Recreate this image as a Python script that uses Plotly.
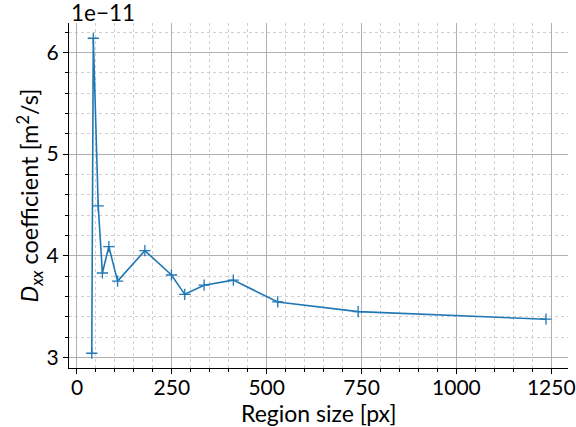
import plotly.graph_objects as go

region_size = [39, 43, 56, 67, 84, 107, 179, 249, 284, 335, 412, 529, 741, 1236]
dxx_e11 = [3.04, 6.14, 4.49, 3.83, 4.09, 3.75, 4.05, 3.81, 3.62, 3.71, 3.76, 3.545, 3.45, 3.375]

x_ticks = [0, 250, 500, 750, 1000, 1250]
y_ticks = [3, 4, 5, 6]

FONT = "Lato"
FS_TICK = 21
FS_TITLE = 23

fig = go.Figure()
fig.add_trace(go.Scatter(
    x=region_size, y=dxx_e11, mode="lines+markers",
    line=dict(color="#1f77b4", width=1.6),
    marker=dict(symbol="cross-thin", size=8, line=dict(color="#1f77b4", width=1.3)),
    showlegend=False,
))

axis_common = dict(
    showline=True, linecolor="black", linewidth=1.2,
    ticks="outside", ticklen=5, tickwidth=1.2, tickcolor="black",
    showgrid=True, gridcolor="#b0b0b0", gridwidth=1,
    zeroline=False, mirror=False, automargin=False,
    ticklabeloverflow="allow",
    tickfont=dict(family=FONT, size=FS_TICK, color="black"),
)

fig.update_xaxes(
    **axis_common,
    range=[-21, 1294], tickvals=x_ticks, ticklabelstandoff=-4,
    minor=dict(dtick=50, tick0=0, ticks="outside", ticklen=3, tickcolor="black",
               showgrid=True, gridcolor="#d0d0d0", griddash="dot", gridwidth=1),
)
fig.update_yaxes(
    **axis_common,
    range=[2.895, 6.29], tickvals=y_ticks,
    minor=dict(dtick=0.2, tick0=3, ticks="outside", ticklen=3, tickcolor="black",
               showgrid=True, gridcolor="#d0d0d0", griddash="dot", gridwidth=1),
)

fig.add_annotation(
    text="1e\u221211", xref="paper", yref="paper", x=0, y=1,
    xanchor="left", yanchor="middle", showarrow=False, yshift=11,
    font=dict(family=FONT, size=FS_TICK + 1.5, color="black"),
)
fig.add_annotation(
    text="Region size [px]", xref="paper", yref="paper", x=0.5, y=0,
    xanchor="center", yanchor="middle", showarrow=False, yshift=-45,
    font=dict(family=FONT, size=FS_TITLE, color="black"),
)
fig.add_annotation(
    text="<i>D<sub>xx</sub></i> coefficient [m<sup>2</sup>/s]", xref="paper", yref="paper",
    x=0, y=0.5, xanchor="center", yanchor="middle", textangle=-90,
    showarrow=False, xshift=-39,
    font=dict(family=FONT, size=FS_TITLE + 0.5, color="black"),
)

fig.update_layout(
    width=576, height=427,
    margin=dict(l=69, r=8, t=23, b=59),
    plot_bgcolor="white", paper_bgcolor="white",
)

fig.write_html("out.html", config={"displayModeBar": False},
               post_script="document.body.style.margin='0px';document.body.style.overflow='hidden';")
